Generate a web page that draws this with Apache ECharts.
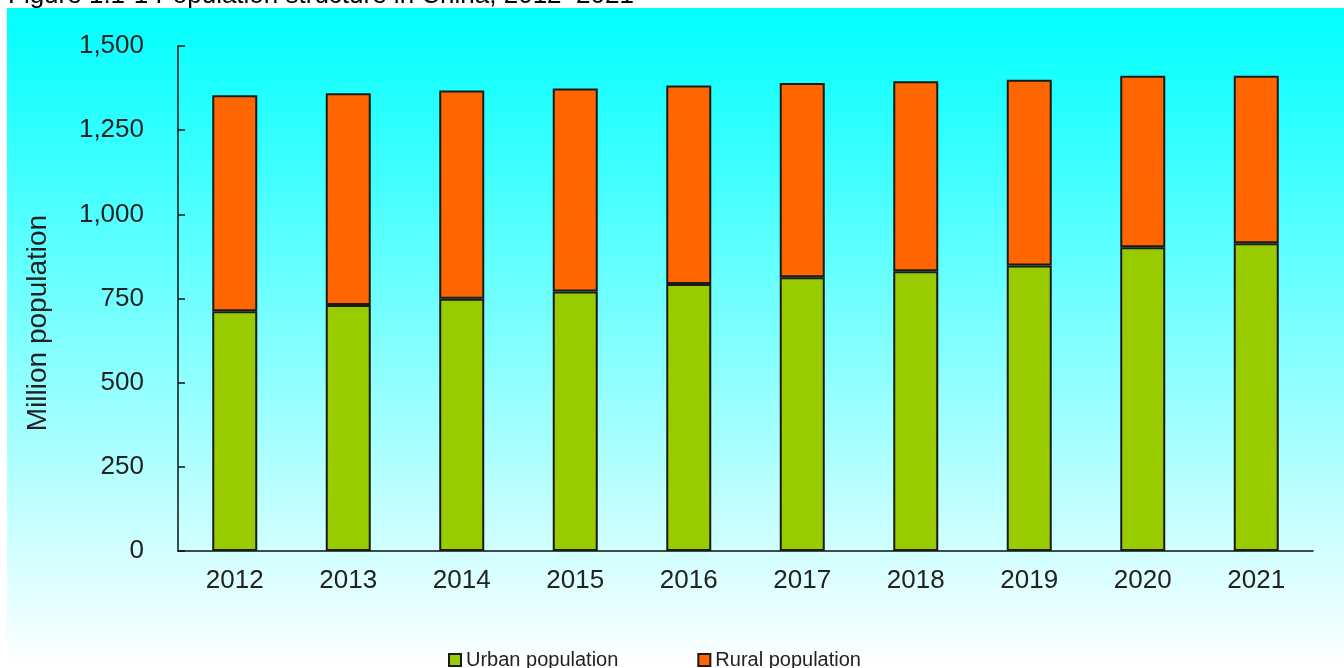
<!DOCTYPE html>
<html>
<head>
<meta charset="utf-8">
<script src="https://cdn.jsdelivr.net/npm/echarts@6/dist/echarts.min.js"></script>
<style>
  html, body { margin: 0; padding: 0; background: #ffffff; }
  #chart { width: 1344px; height: 668px; }
</style>
</head>
<body>
<div id="chart"></div>
<script>
// Population of China by residence, million people
const years = ['2012', '2013', '2014', '2015', '2016', '2017', '2018', '2019', '2020', '2021'];
const urbanPopulation = [712, 731, 749, 771, 793, 813, 831, 848, 902, 914];
const ruralPopulation = [642, 629, 619, 603, 590, 577, 564, 552, 510, 498];
const yTicks = { min: 0, max: 1500, step: 250 };

const FONT = '"Liberation Sans", Arial, sans-serif';
const chart = echarts.init(document.getElementById('chart'));

chart.setOption({
  animation: false,
  textStyle: { fontFamily: FONT },
  graphic: [
    {
      type: 'text',
      z: -20,
      style: {
        text: 'Figure 1.1-1 Population structure in China, 2012–2021',
        x: 8, y: 9,
        verticalAlign: 'bottom',
        font: '26px ' + FONT,
        fill: '#000'
      }
    },
    {
      type: 'rect',
      z: -10,
      shape: { x: 7, y: 8, width: 1337, height: 660 },
      style: {
        fill: new echarts.graphic.LinearGradient(0, 0, 0, 1, [
          { offset: 0, color: '#00ffff' },
          { offset: 1, color: '#ffffff' }
        ])
      }
    },
    {
      type: 'text',
      z: 5,
      x: 38, y: 323,
      rotation: Math.PI / 2,
      style: {
        text: 'Million population',
        align: 'center',
        verticalAlign: 'middle',
        font: '28px ' + FONT,
        fill: '#222'
      }
    }
  ],
  grid: { left: 178, right: 31, top: 46, bottom: 117 },
  legend: {
    left: 443,
    top: 645,
    itemWidth: 12,
    itemHeight: 12,
    itemGap: 79,
    icon: 'rect',
    textStyle: { fontSize: 20, color: '#222', fontFamily: FONT },
    data: ['Urban population', 'Rural population']
  },
  xAxis: {
    type: 'category',
    data: years,
    axisLine: { lineStyle: { color: '#111', width: 1.5 } },
    axisTick: { inside: true, length: 7, alignWithLabel: false, lineStyle: { color: '#111', width: 1.5 } },
    axisLabel: { fontSize: 26, color: '#222', margin: 17 },
    splitLine: { show: false }
  },
  yAxis: {
    type: 'value',
    min: yTicks.min,
    max: yTicks.max,
    interval: yTicks.step,
    axisLine: { show: true, lineStyle: { color: '#111', width: 1.5 } },
    axisTick: { show: true, inside: true, length: 7, lineStyle: { color: '#111', width: 1.5 } },
    axisLabel: {
      fontSize: 26, color: '#222', margin: 34,
      formatter: v => v.toLocaleString('en-US')
    },
    splitLine: { show: false }
  },
  series: [
    {
      name: 'Urban population',
      type: 'bar',
      stack: 'pop',
      barWidth: 45,
      data: urbanPopulation,
      itemStyle: { color: '#99cc00', borderColor: '#1a1a1a', borderWidth: 2 }
    },
    {
      name: 'Rural population',
      type: 'bar',
      stack: 'pop',
      barWidth: 45,
      data: ruralPopulation,
      itemStyle: { color: '#ff6600', borderColor: '#1a1a1a', borderWidth: 2 }
    }
  ]
});
</script>
</body>
</html>
